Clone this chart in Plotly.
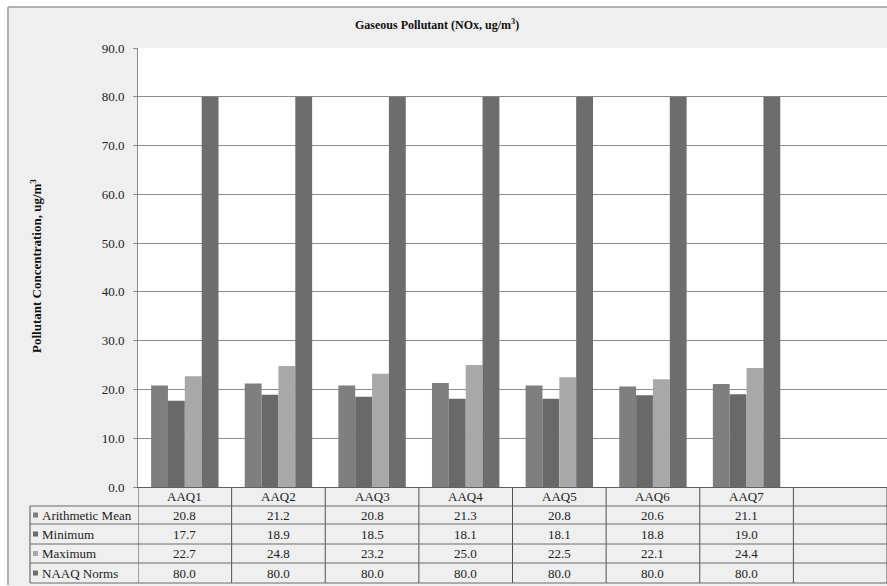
import plotly.graph_objects as go

# Monitoring stations and NOx statistics (ug/m3)
stations = ["AAQ1", "AAQ2", "AAQ3", "AAQ4", "AAQ5", "AAQ6", "AAQ7"]
series_names = ["Arithmetic Mean", "Minimum", "Maximum", "NAAQ Norms"]
arith_mean = [20.8, 21.2, 20.8, 21.3, 20.8, 20.6, 21.1]
minimum = [17.7, 18.9, 18.5, 18.1, 18.1, 18.8, 19.0]
maximum = [22.7, 24.8, 23.2, 25.0, 22.5, 22.1, 24.4]
naaq_norms = [80.0, 80.0, 80.0, 80.0, 80.0, 80.0, 80.0]
y_ticks = [0, 10, 20, 30, 40, 50, 60, 70, 80, 90]

series_values = [arith_mean, minimum, maximum, naaq_norms]
colors = ["#7f7f7f", "#696969", "#a8a8a8", "#6d6d6d"]

W, H = 887, 586
ML, MR, MT, MB = 138, 0, 48, 99
PW, PH = W - ML - MR, H - MT - MB
FONT = "Liberation Serif, Times New Roman, serif"
TXT = 13


def px(xp):
    return (xp - ML) / PW


def py(yp):
    return (H - MB - yp) / PH


xs = list(range(len(stations)))
fig = go.Figure()
for name, vals, col in zip(series_names, series_values, colors):
    fig.add_trace(go.Bar(x=xs, y=vals, name=name, marker=dict(color=col, line=dict(width=0))))

shapes = []
annotations = []

# light outer chart frame
shapes.append(dict(type="rect", xref="paper", yref="paper", layer="below",
                   x0=px(0), x1=px(8), y0=py(H), y1=py(0), fillcolor="white", line=dict(width=0)))
shapes.append(dict(type="rect", xref="paper", yref="paper", layer="below",
                   x0=px(0), x1=px(W), y0=py(7), y1=py(0), fillcolor="white", line=dict(width=0)))
shapes.append(dict(type="line", xref="paper", yref="paper", x0=px(8), x1=px(8), y0=py(7), y1=py(585),
                   line=dict(color="#9a9a9a", width=1.5)))
shapes.append(dict(type="line", xref="paper", yref="paper", x0=px(8), x1=px(W), y0=py(7), y1=py(7),
                   line=dict(color="#9a9a9a", width=1.5)))

# data table grid
row_lines = [506, 524, 544, 563, 583]
row_centers = [(a + b) / 2 for a, b in zip(row_lines[:-1], row_lines[1:])]
for k in range(len(stations) + 2):
    shapes.append(dict(type="line", xref="x", yref="paper", x0=k - 0.5, x1=k - 0.5,
                       y0=0, y1=py(583), line=dict(color="#505050", width=1)))
shapes.append(dict(type="line", xref="paper", yref="paper", x0=px(30), x1=px(30),
                   y0=py(506), y1=py(583), line=dict(color="#505050", width=1)))
for yl in row_lines:
    shapes.append(dict(type="line", xref="paper", yref="paper", x0=px(30), x1=1,
                       y0=py(yl), y1=py(yl), line=dict(color="#6a6a6a", width=1)))

# header row with station names
for i, s in enumerate(stations):
    annotations.append(dict(text=s, xref="x", yref="paper", x=i, y=py(496.5),
                            xanchor="center", yanchor="middle", showarrow=False,
                            font=dict(family=FONT, size=TXT, color="#222")))

for r, (name, vals, col) in enumerate(zip(series_names, series_values, colors)):
    yc = py(row_centers[r])
    shapes.append(dict(type="rect", xref="paper", yref="paper",
                       x0=px(33), x1=px(38), y0=yc - 2.5 / PH, y1=yc + 2.5 / PH,
                       fillcolor=col, line=dict(width=0)))
    annotations.append(dict(text=name, xref="paper", yref="paper", x=px(40), y=yc,
                            xanchor="left", yanchor="middle", showarrow=False,
                            font=dict(family=FONT, size=TXT, color="#222")))
    for i, v in enumerate(vals):
        annotations.append(dict(text=f"{v:.1f}", xref="x", yref="paper", x=i, y=yc,
                                xanchor="center", yanchor="middle", showarrow=False,
                                font=dict(family=FONT, size=TXT, color="#222")))

annotations.append(dict(text="<b>Gaseous Pollutant (NOx, ug/m<sup>3</sup>)</b>", xref="paper", yref="paper",
                        x=px(437), y=py(25), xanchor="center", yanchor="middle", showarrow=False,
                        font=dict(family=FONT, size=12, color="#111")))
annotations.append(dict(text="<b>Pollutant Concentration, ug/m<sup>3</sup></b>", xref="paper", yref="paper",
                        x=px(36), y=py(266), xanchor="center", yanchor="middle", showarrow=False,
                        textangle=-90, font=dict(family=FONT, size=13, color="#111")))

fig.update_layout(
    width=W, height=H,
    margin=dict(l=ML, r=MR, t=MT, b=MB),
    paper_bgcolor="#efefef", plot_bgcolor="white",
    barmode="group", bargap=0.28, bargroupgap=0,
    showlegend=False,
    font=dict(family=FONT, size=TXT, color="#222"),
    shapes=shapes, annotations=annotations,
    xaxis=dict(range=[-0.5, len(stations) + 0.5], tickmode="array", tickvals=xs,
               showticklabels=False, showgrid=False, showline=True, linecolor="#606060",
               linewidth=1, ticks="", zeroline=False),
    yaxis=dict(range=[0, 90], tickmode="array", tickvals=y_ticks, tickformat=".1f",
               showgrid=True, gridcolor="#8c8c8c", gridwidth=1, zeroline=False,
               showline=True, linecolor="#8c8c8c", linewidth=1, ticks="outside", ticklen=4,
               tickcolor="#8c8c8c", ticklabelstandoff=6,
               tickfont=dict(family=FONT, size=TXT, color="#222")),
)

fig.write_html("out.html")
